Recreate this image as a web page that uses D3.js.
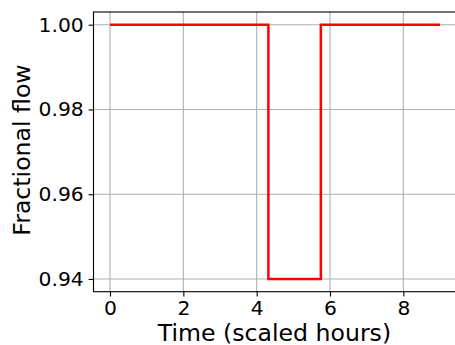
<!DOCTYPE html>
<html>
<head>
<meta charset="utf-8">
<script src="https://cdn.jsdelivr.net/npm/d3@7"></script>
<style>
  html, body { margin: 0; padding: 0; background: #fff; }
  svg { display: block; font-family: "DejaVu Sans", sans-serif; }
</style>
</head>
<body>
<div id="chart"></div>
<script>
'use strict';

// step profile: fractional flow vs scaled time
const stepTimes = [0, 4.32, 4.32, 5.75, 5.75, 9];
const stepFlow  = [1.00, 1.00, 0.94, 0.94, 1.00, 1.00];
const xTicks = [0, 2, 4, 6, 8];
const yTicks = [0.94, 0.96, 0.98, 1.00];

const W = 455, H = 345;
const margin = { left: 93.5, right: -1.5, top: 12, bottom: 53.3 };
const TICK_FONT = 20.3, LABEL_FONT = 23.6;

const svg = d3.select('#chart').append('svg')
    .attr('width', W).attr('height', H);

const x = d3.scaleLinear()
    .domain([-0.45, 9.45])
    .range([margin.left, W - margin.right]);
const y = d3.scaleLinear()
    .domain([0.937, 1.003])
    .range([H - margin.bottom, margin.top]);

// grid
const grid = svg.append('g').attr('stroke', '#b0b0b0').attr('stroke-width', 1.1);
grid.selectAll('.gx').data(xTicks).enter().append('line')
    .attr('x1', d => x(d)).attr('x2', d => x(d))
    .attr('y1', y.range()[0]).attr('y2', y.range()[1]);
grid.selectAll('.gy').data(yTicks).enter().append('line')
    .attr('y1', d => y(d)).attr('y2', d => y(d))
    .attr('x1', x.range()[0]).attr('x2', x.range()[1]);

// data line
const pts = stepTimes.map((t, i) => [t, stepFlow[i]]);
svg.append('path')
    .datum(pts)
    .attr('fill', 'none')
    .attr('stroke', '#ff0000')
    .attr('stroke-width', 2.5)
    .attr('stroke-linejoin', 'miter')
    .attr('d', d3.line().x(d => x(d[0])).y(d => y(d[1])));

// axes
const xAxis = d3.axisBottom(x).tickValues(xTicks).tickFormat(d3.format('d'))
    .tickSize(4.9).tickPadding(4.2).tickSizeOuter(0);
const yAxis = d3.axisLeft(y).tickValues(yTicks).tickFormat(d3.format('.2f'))
    .tickSize(4.9).tickPadding(4.9).tickSizeOuter(0);

const gx = svg.append('g')
    .attr('transform', 'translate(0,' + (H - margin.bottom) + ')')
    .call(xAxis);
const gy = svg.append('g')
    .attr('transform', 'translate(' + margin.left + ',0)')
    .call(yAxis);

[gx, gy].forEach(function (g) {
    g.selectAll('text').attr('font-size', TICK_FONT).attr('fill', '#000')
        .attr('font-family', '"DejaVu Sans", sans-serif');
    g.selectAll('line').attr('stroke', '#000').attr('stroke-width', 1.1);
    g.select('.domain').remove();
});

// spines
svg.append('rect')
    .attr('x', x.range()[0]).attr('y', y.range()[1])
    .attr('width', x.range()[1] - x.range()[0])
    .attr('height', y.range()[0] - y.range()[1])
    .attr('fill', 'none').attr('stroke', '#000').attr('stroke-width', 1.1);

// labels
svg.append('text')
    .attr('x', 274.5)
    .attr('y', 340.5)
    .attr('text-anchor', 'middle')
    .attr('font-size', LABEL_FONT)
    .text('Time (scaled hours)');

svg.append('text')
    .attr('transform', 'translate(30,150) rotate(-90)')
    .attr('text-anchor', 'middle')
    .attr('font-size', LABEL_FONT)
    .text('Fractional flow');
</script>
</body>
</html>
